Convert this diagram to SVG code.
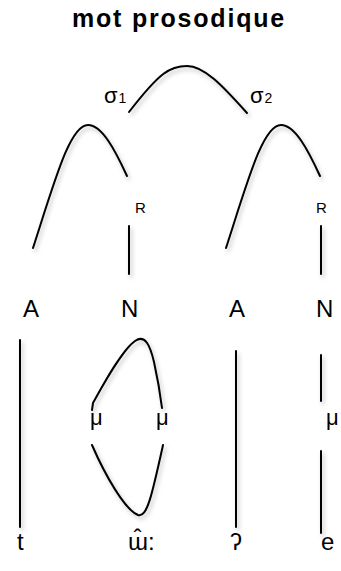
<svg xmlns="http://www.w3.org/2000/svg" width="341" height="571" viewBox="0 0 341 571">
<defs>
<filter id="sh" filterUnits="userSpaceOnUse" x="0" y="0" width="341" height="571">
<feDropShadow dx="2" dy="3" stdDeviation="2" flood-color="#000" flood-opacity="0.25"/>
</filter>
</defs>
<style>
text{font-family:"Liberation Sans",Arial,sans-serif;fill:#000}
.t{font-size:25px;font-weight:bold;letter-spacing:1.8px}
.big{font-size:24px}
.s{font-size:22px}
.sub{font-size:14px}
.r{font-size:15px}
.mu{font-size:22px}
.c{stroke:#000;stroke-width:2;fill:none;stroke-linecap:round;stroke-linejoin:round;filter:url(#sh)}
</style>
<rect width="341" height="571" fill="#fff"/>
<g id="title"><text class="t" x="179" y="27" text-anchor="middle">mot prosodique</text></g>
<g id="sigma1"><text class="s" x="104" y="103">σ<tspan class="sub" dx="1">1</tspan></text></g>
<g id="sigma2"><text class="s" x="250" y="103">σ<tspan class="sub" dx="1">2</tspan></text></g>
<g id="R1"><text class="r" x="135" y="213">R</text></g>
<g id="R2"><text class="r" x="316" y="213">R</text></g>
<g id="A1"><text class="big" x="23" y="317">A</text></g>
<g id="N1"><text class="big" x="121" y="317">N</text></g>
<g id="A2"><text class="big" x="229" y="317">A</text></g>
<g id="N2"><text class="big" x="316" y="317">N</text></g>
<g id="mu1"><text class="mu" x="90" y="425">μ</text></g>
<g id="mu2"><text class="mu" x="156" y="425">μ</text></g>
<g id="mu3"><text class="mu" x="326" y="425">μ</text></g>
<g id="t"><text class="big" x="17" y="550">t</text></g>
<g id="u"><text class="big" x="128" y="550">ɯ̂:</text></g>
<g id="q"><text class="big" x="230" y="550">ʔ</text></g>
<g id="e"><text class="big" x="321" y="550">e</text></g>
<g id="connectors">
<path class="c" d="M129,112 C160,72 170,66 187,66 C204,66 222,85 247,113"/>
<path class="c" d="M33,248 C55,180 70,125 88,125 C102,125 115,150 127,176"/>
<path class="c" d="M226,248 C248,180 263,125 281,125 C295,125 308,150 320,176"/>
<path class="c" d="M129,226 V274"/>
<path class="c" d="M321,226 V274"/>
<path class="c" d="M20,340 V527"/>
<path class="c" d="M92,410 L93,403 C103,385 122,350 135,341 C145,334 150,345 154,362 C158,380 160,392 162,408"/>
<path class="c" d="M92,445 C105,475 125,510 138,515 C147,518 152,495 163,445"/>
<path class="c" d="M236,351 V527"/>
<path class="c" d="M321,355 V401"/>
<path class="c" d="M321,451 V533"/>
</g>
</svg>
